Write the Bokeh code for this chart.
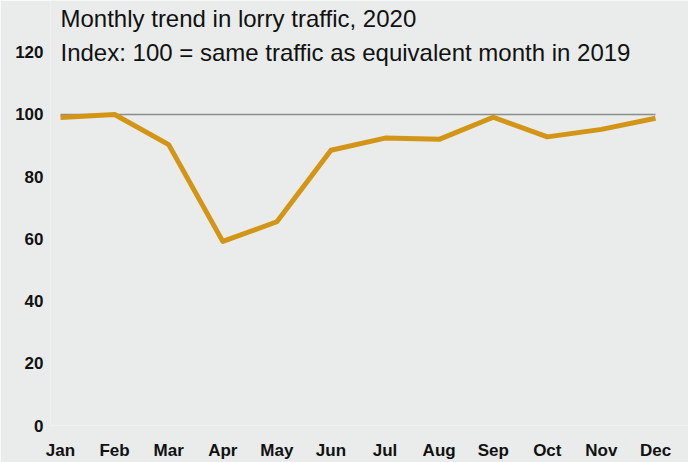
from bokeh.plotting import figure
from bokeh.models import FixedTicker, Range1d, Label
from bokeh.embed import file_html
from bokeh.resources import INLINE

months = ["Jan", "Feb", "Mar", "Apr", "May", "Jun", "Jul", "Aug", "Sep", "Oct", "Nov", "Dec"]
index_2020 = [99.0, 100.0, 90.3, 59.2, 65.5, 88.5, 92.4, 92.0, 99.1, 92.8, 95.2, 98.8]
y_ticks = [0, 20, 40, 60, 80, 100, 120]
baseline = 100
title_text = "Monthly trend in lorry traffic, 2020"
subtitle_text = "Index: 100 = same traffic as equivalent month in 2019"

xs = list(range(len(months)))

BG = "#E9ECEA"
FONT = "Liberation Sans"

p = figure(width=688, height=462, output_backend="svg", toolbar_location=None,
           x_range=Range1d(-0.185, 11.61), y_range=Range1d(0, 136.64),
           min_border_left=50, min_border_right=0, min_border_top=0, min_border_bottom=35)
p.background_fill_color = BG
p.border_fill_color = BG
p.outline_line_color = None
p.grid.visible = False

for ax in (p.xaxis[0], p.yaxis[0]):
    ax.axis_line_color = None
    ax.major_tick_line_color = None
    ax.minor_tick_line_color = None
    ax.major_tick_out = 0
    ax.major_tick_in = 0
    ax.minor_tick_out = 0
    ax.minor_tick_in = 0
    ax.major_label_text_font = FONT
    ax.major_label_text_font_style = "bold"
    ax.major_label_text_font_size = "17px"
    ax.major_label_text_color = "#111111"

p.xaxis.ticker = FixedTicker(ticks=xs)
p.xaxis.major_label_overrides = {i: m for i, m in enumerate(months)}
p.xaxis.major_label_standoff = 15
p.yaxis.ticker = FixedTicker(ticks=y_ticks)
p.yaxis.major_label_standoff = 7

p.segment(x0=[xs[0]], x1=[xs[-1]], y0=[baseline], y1=[baseline], line_color="#8C8C8C", line_width=1.5)
p.line(xs, index_2020, line_color="#D39516", line_width=5, line_join="round")

p.add_layout(Label(x=xs[0], y=131.0, text=title_text, text_font=FONT, text_font_size="24px",
                   text_baseline="middle", text_color="#111111"))
p.add_layout(Label(x=xs[0], y=y_ticks[-1], text=subtitle_text, text_font=FONT, text_font_size="24px",
                   text_baseline="middle", text_color="#111111"))

open("out.html", "w").write(file_html(p, INLINE))
